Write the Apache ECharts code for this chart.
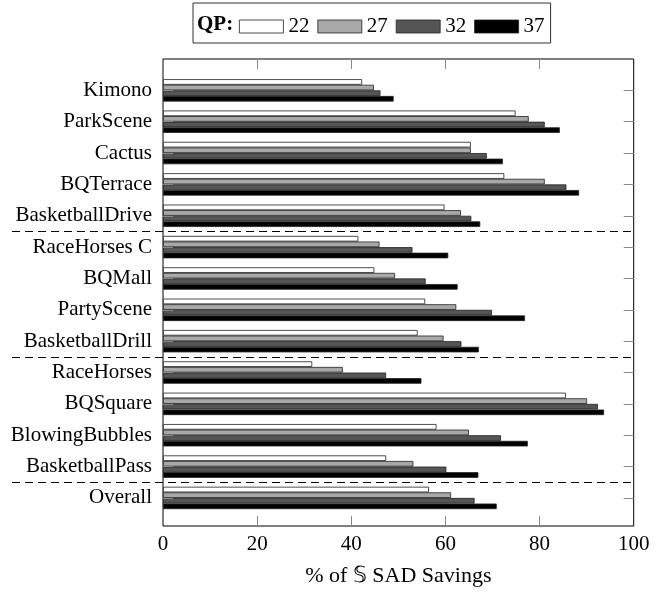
<!DOCTYPE html>
<html>
<head>
<meta charset="utf-8">
<script src="https://cdn.jsdelivr.net/npm/echarts@6/dist/echarts.min.js"></script>
<style>
  html, body { margin: 0; padding: 0; background: #fff; }
  #chart { width: 672px; height: 592px; }
</style>
</head>
<body>
<div id="chart"></div>
<script>
// ---- data ----
const categories = ['Kimono', 'ParkScene', 'Cactus', 'BQTerrace', 'BasketballDrive',
  'RaceHorses C', 'BQMall', 'PartyScene', 'BasketballDrill',
  'RaceHorses', 'BQSquare', 'BlowingBubbles', 'BasketballPass', 'Overall'];
const groupSizes = [5, 4, 4, 1];
const qpNames = ['22', '27', '32', '37'];
const qp22 = [42.3, 74.9, 65.4, 72.5, 59.8, 41.5, 44.9, 55.7, 54.1, 31.7, 85.6, 58.1, 47.4, 56.5];
const qp27 = [44.8, 77.7, 65.4, 81.1, 63.3, 46.0, 49.3, 62.3, 59.6, 38.2, 90.1, 65.0, 53.2, 61.2];
const qp32 = [46.2, 81.1, 68.8, 85.7, 65.5, 53.0, 55.8, 69.9, 63.4, 47.4, 92.4, 71.8, 60.2, 66.2];
const qp37 = [49.0, 84.3, 72.2, 88.4, 67.4, 60.6, 62.6, 76.9, 67.1, 54.9, 93.7, 77.5, 67.0, 70.9];
const xTicks = [0, 20, 40, 60, 80, 100];
const xLabel = '% of \u{1D54A} SAD Savings';

// ---- derived ----
const seriesValues = [qp22, qp27, qp32, qp37];
const fills = ['#ffffff', '#a8a8a8', '#555555', '#000000'];
const dividers = [];
let acc = 0;
for (let i = 0; i < groupSizes.length - 1; i++) { acc += groupSizes[i]; dividers.push(acc - 0.5); }

const FONT = 'Liberation Serif';
const L = 163, R = 38.3, T = 59, B = 62.7;
const band = (592 - T - B) / (categories.length + 1);
const innerT = T + band / 2, innerB = B + band / 2;

const chart = echarts.init(document.getElementById('chart'), null, { renderer: 'canvas' });

const series = seriesValues.map((vals, i) => ({
  name: qpNames[i],
  type: 'bar',
  xAxisIndex: 0,
  yAxisIndex: 0,
  data: vals,
  barWidth: 5.6,
  barGap: '0%',
  itemStyle: { color: fills[i], borderColor: '#222', borderWidth: 0.8 },
  emphasis: { disabled: true },
  z: 2
}));

series.push({
  type: 'line',
  xAxisIndex: 3,
  yAxisIndex: 3,
  data: [],
  silent: true,
  markLine: {
    silent: true,
    symbol: ['none', 'none'],
    label: { show: false },
    lineStyle: { color: '#000', width: 1, type: [8, 5] },
    emphasis: { disabled: true },
    data: dividers.map(v => ({ yAxis: v }))
  }
});

const option = {
  animation: false,
  backgroundColor: '#fff',
  textStyle: { fontFamily: FONT },
  legend: {
    data: qpNames,
    left: 193,
    top: 3,
    padding: [13, 6, 6, 46],
    itemWidth: 44,
    itemHeight: 13,
    itemGap: 8,
    icon: 'rect',
    borderColor: '#333',
    borderWidth: 1,
    selectedMode: false,
    textStyle: { fontFamily: FONT, fontSize: 21, color: '#000' },
    itemStyle: { borderColor: '#222', borderWidth: 0.8 }
  },
  graphic: [{
    type: 'text',
    left: 197,
    top: 14,
    style: { text: 'QP:', font: 'bold 21px "Liberation Serif"', fill: '#000' },
    z: 100
  }],
  grid: [
    { left: L, right: R, top: innerT, bottom: innerB, containLabel: false },
    { left: L, right: R, top: T, bottom: B, show: true, borderColor: '#000', borderWidth: 1, backgroundColor: 'transparent' },
    { left: 12, right: R, top: innerT, bottom: innerB }
  ],
  xAxis: [
    { gridIndex: 0, type: 'value', min: 0, max: 100, show: false },
    {
      gridIndex: 1, type: 'value', min: 0, max: 100, interval: 20, position: 'bottom',
      axisLine: { show: false },
      axisTick: { show: true, inside: true, length: 10, lineStyle: { color: '#888', width: 1 }, customValues: [20, 40, 60, 80] },
      axisLabel: { show: true, customValues: xTicks, margin: 8, fontFamily: FONT, fontSize: 21, color: '#000' },
      splitLine: { show: false },
      name: xLabel, nameLocation: 'middle', nameGap: 39,
      nameTextStyle: { fontFamily: FONT, fontSize: 22, color: '#000' }
    },
    {
      gridIndex: 1, type: 'value', min: 0, max: 100, interval: 20, position: 'top',
      axisLine: { show: false },
      axisTick: { show: true, inside: true, length: 10, lineStyle: { color: '#888', width: 1 }, customValues: [20, 40, 60, 80] },
      axisLabel: { show: false },
      splitLine: { show: false }
    },
    { gridIndex: 2, type: 'value', min: 0, max: 1, show: false }
  ],
  yAxis: [
    {
      gridIndex: 0, type: 'category', data: categories, inverse: true, position: 'left', z: 3,
      axisLine: { show: false },
      axisTick: { show: true, inside: true, alignWithLabel: true, length: 10, lineStyle: { color: '#888', width: 1 } },
      axisLabel: { show: true, margin: 11, fontFamily: FONT, fontSize: 21, color: '#000' }
    },
    {
      gridIndex: 0, type: 'category', data: categories, inverse: true, position: 'right', z: 3,
      axisLine: { show: false },
      axisTick: { show: true, inside: true, alignWithLabel: true, length: 10, lineStyle: { color: '#888', width: 1 } },
      axisLabel: { show: false }
    },
    { gridIndex: 1, type: 'value', min: 0, max: 1, show: false },
    { gridIndex: 2, type: 'value', min: -0.5, max: categories.length - 0.5, inverse: true, show: false }
  ],
  series: series
};

chart.setOption(option);
</script>
</body>
</html>
